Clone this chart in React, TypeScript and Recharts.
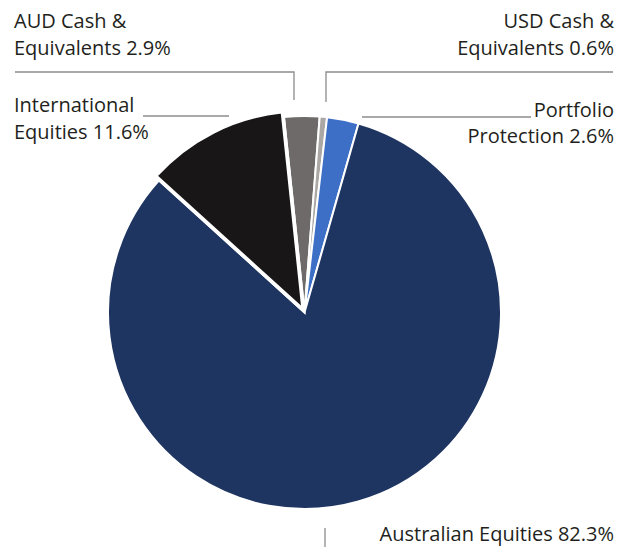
import { PieChart, Pie, Cell } from 'recharts';

// Asset allocation, clockwise from just left of 12 o'clock
const labelLines = [
  ['AUD Cash &', 'Equivalents'],
  ['USD Cash &', 'Equivalents'],
  ['Portfolio', 'Protection'],
  ['Australian Equities'],
  ['International', 'Equities'],
];
const names = ['AUD Cash & Equivalents', 'USD Cash & Equivalents', 'Portfolio Protection', 'Australian Equities', 'International Equities'];
const values = [2.9, 0.6, 2.6, 82.3, 11.6];
const colors = ['#6e6a69', '#aaa7a5', '#3d6fc6', '#1f3561', '#181616'];

const data = names.map((name, i) => ({ name, value: values[i] }));

// label placement (text anchor, x, baselines, leader line points)
const labelLayout = [
  { anchor: 'start', x: 14, ys: [28, 55], line: [[15, 72], [294, 72], [294, 100]] },
  { anchor: 'end', x: 614, ys: [28, 55], line: [[613, 72], [326, 72], [326, 102]] },
  { anchor: 'end', x: 614, ys: [117, 143], line: [[362, 117], [531, 117]] },
  { anchor: 'end', x: 614, ys: [541], line: [[325, 528], [325, 547]] },
  { anchor: 'start', x: 14, ys: [112, 139], line: [[143, 116], [229, 116]] },
];

const CX = 304.5;
const CY = 312.5;
const R = 196.5;
const START = 96;
const EXPLODE_INDEX = 4;

const renderLabel = ({ index }: any) => {
  const l = labelLayout[index];
  const lines = labelLines[index];
  return (
    <g key={`label-${index}`}>
      <polyline
        points={l.line.map((p) => p.join(',')).join(' ')}
        fill="none"
        stroke="#8c8c8c"
        strokeWidth={1.3}
      />
      <text
        textAnchor={l.anchor as any}
        fill="#231f20"
        fontSize={20}
        fontFamily="'Open Sans', sans-serif"
      >
        {lines.map((t, j) => (
          <tspan key={j} x={l.x} y={l.ys[j]}>
            {j === lines.length - 1 ? `${t} ${values[index]}%` : t}
          </tspan>
        ))}
      </text>
    </g>
  );
};

export default function App() {
  // offset of the exploded slice along its mid angle
  const before = values.slice(0, EXPLODE_INDEX).reduce((s, v) => s + v, 0);
  const mid = START - ((before + values[EXPLODE_INDEX] / 2) / 100) * 360;
  const rad = (mid * Math.PI) / 180;
  const dx = Math.cos(rad) * 5;
  const dy = -Math.sin(rad) * 5;

  return (
    <div style={{ position: 'absolute', left: 0, top: 0, background: '#fff' }}>
      <PieChart width={628} height={547} margin={{ top: 0, right: 0, bottom: 0, left: 0 }}>
        <Pie
          data={data}
          dataKey="value"
          cx={CX}
          cy={CY}
          outerRadius={R}
          startAngle={START}
          endAngle={START - 360}
          stroke="#fff"
          strokeWidth={2}
          label={renderLabel}
          labelLine={false}
          isAnimationActive={false}
        >
          {data.map((d, i) => (
            <Cell key={d.name} fill={i === EXPLODE_INDEX ? '#fff' : colors[i]} />
          ))}
        </Pie>
        <Pie
          data={data}
          dataKey="value"
          cx={CX + dx}
          cy={CY + dy}
          outerRadius={R}
          startAngle={START}
          endAngle={START - 360}
          stroke="none"
          isAnimationActive={false}
        >
          {data.map((d, i) => (
            <Cell
              key={d.name}
              fill={i === EXPLODE_INDEX ? colors[i] : 'transparent'}
              stroke={i === EXPLODE_INDEX ? '#fff' : 'none'}
              strokeWidth={2}
            />
          ))}
        </Pie>
      </PieChart>
    </div>
  );
}
